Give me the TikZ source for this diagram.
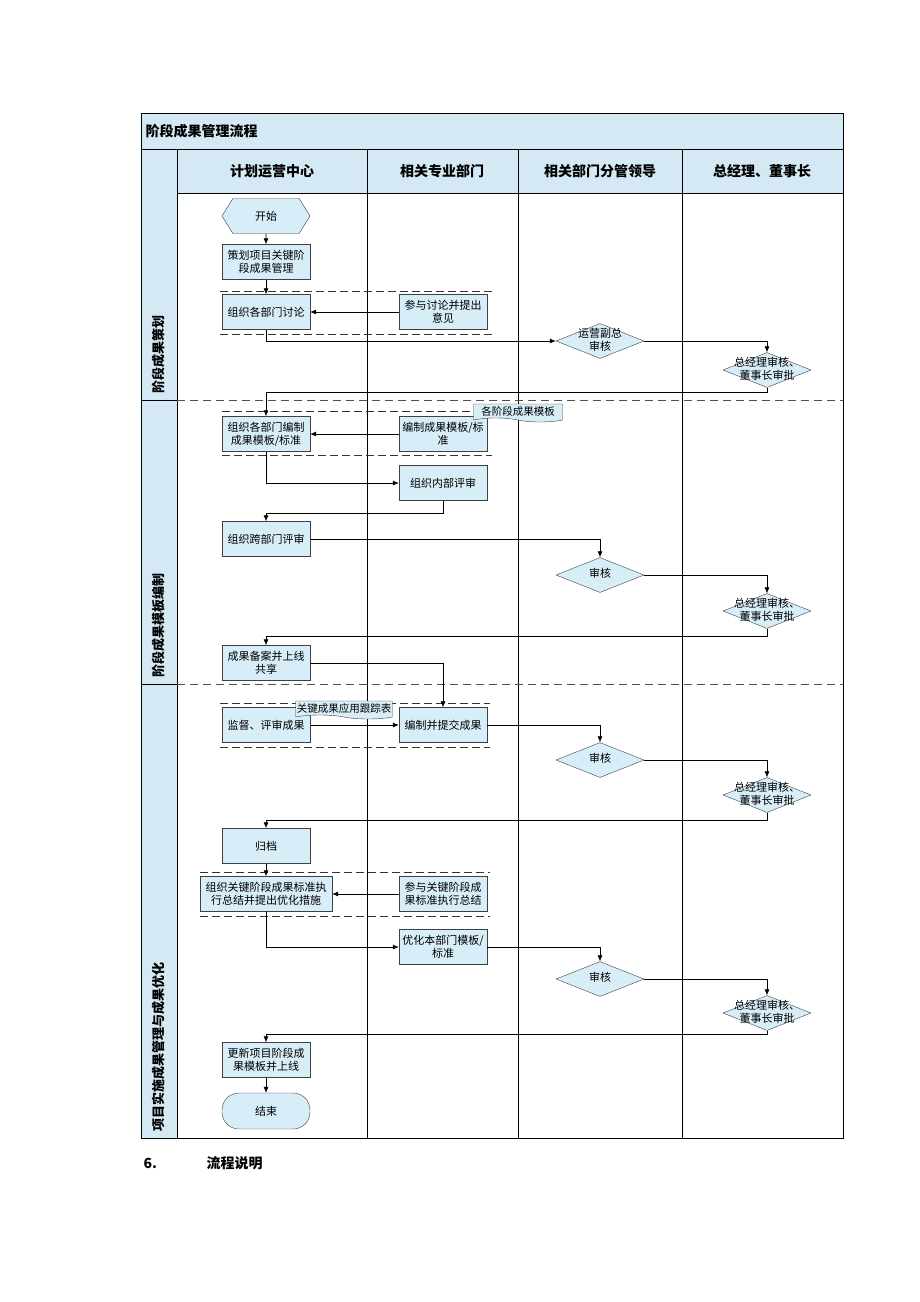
\documentclass[tikz,border=0pt]{standalone}
\usepackage{fontspec}
\setmainfont{Noto Sans CJK SC}
\usetikzlibrary{shapes.geometric,shapes.symbols,arrows.meta,positioning}
\definecolor{boxfill}{HTML}{D7EDF8}
\definecolor{hdrfill}{HTML}{D5E9F4}
\definecolor{grpgray}{HTML}{505050}
\newcommand{\dlabel}[1]{\makebox[0pt]{\begin{tabular}{@{}c@{}}#1\end{tabular}}}

\begin{document}
\begin{tikzpicture}[x=1pt, y=-1pt,
  task/.style={rectangle, draw=black!75, fill=boxfill, minimum width=88pt, minimum height=35pt, inner sep=1pt, align=center, font=\fontsize{11}{13}\selectfont},
  check/.style={diamond, draw=black!75, fill=boxfill, minimum width=88pt, minimum height=35pt, inner sep=0pt, aspect=2.5, font=\fontsize{11}{13}\selectfont},
  hexa/.style={signal, signal to=east and west, signal pointer angle=116, draw=black!75, fill=boxfill, minimum width=88pt, minimum height=35pt, inner sep=1pt, font=\fontsize{11}{13}\selectfont},
  term/.style={rectangle, rounded corners=17pt, draw=black!75, fill=boxfill, minimum width=88pt, minimum height=36pt, font=\fontsize{11}{13}\selectfont},
  docu/.style={tape, tape bend top=none, tape bend bottom=out and in, tape bend height=4pt, draw=black!75, fill=boxfill, minimum height=18pt, inner sep=1pt, font=\fontsize{10.5}{12}\selectfont},
  flow/.style={-{Latex[length=6pt,width=5pt]}, line width=0.6pt},
  frame/.style={line width=0.9pt},
  phase/.style={grpgray, line width=0.8pt, dash pattern=on 8pt off 5pt},
  grp/.style={black!80, line width=0.8pt, dash pattern=on 8pt off 4pt},
  lane/.style={font=\fontsize{14}{16}\selectfont\bfseries}
]
  \useasboundingbox (0,0) rectangle (920,1302);

  % frame and lanes
  \fill[hdrfill] (141,113) rectangle (843,149);
  \fill[hdrfill] (177,149) rectangle (843,193);
  \fill[hdrfill] (141,149) rectangle (177,1138);
  \draw[frame] (141,113) rectangle (843,1138);
  \draw[frame] (141,149) -- (843,149);
  \draw[frame] (177,193) -- (843,193);
  \draw[frame] (177,149) -- (177,1138);
  \foreach \x in {367,518,682} \draw[frame] (\x,149) -- (\x,1138);
  \foreach \y in {400,684} {
    \draw[frame] (141,\y) -- (177,\y);
    \draw[phase] (177,\y) -- (843,\y);
  }

  \node[lane, anchor=west] (title) at (142,131) {阶段成果管理流程};
  \node[lane] (l1) at (272,171) {计划运营中心};
  \node[lane] (l2) at (442,171) {相关专业部门};
  \node[lane] (l3) at (600,171) {相关部门分管领导};
  \node[lane] (l4) at (762,171) {总经理、董事长};

  \node[lane, font=\fontsize{13}{15}\selectfont\bfseries, rotate=90, anchor=west] (p1) at (159,397) {阶段成果策划};
  \node[lane, font=\fontsize{13}{15}\selectfont\bfseries, rotate=90, anchor=west] (p2) at (159,681) {阶段成果模板编制};
  \node[lane, font=\fontsize{13}{15}\selectfont\bfseries, rotate=90, anchor=west] (p3) at (159,1135) {项目实施成果管理与成果优化};

  % group markers
  \draw[grp] (220,291) -- (492,291); \draw[grp] (220,334) -- (492,334);
  \draw[grp] (222,411) -- (492,411); \draw[grp] (222,455) -- (492,455);
  \draw[grp] (220,703) -- (490,703); \draw[grp] (220,747) -- (490,747);
  \draw[grp] (200,872) -- (490,872); \draw[grp] (200,916) -- (490,916);

  % phase 1
  \node[hexa] (start) at (266,216) {开始};
  \node[task] (plan) at (266,262) {策划项目关键阶\\段成果管理};
  \node[task] (discuss) at (266,312) {组织各部门讨论};
  \node[task] (advise) at (443,312) {参与讨论并提出\\意见};
  \node[check] (vpok) at (600,341) {\dlabel{运营副总\\审核}};
  \node[check] (gm1) at (767,370) {\dlabel{总经理审核、\\董事长审批}};

  % phase 2
  \node[task] (compile) at (266,434) {组织各部门编制\\成果模板/标准};
  \node[task] (draft) at (443,434) {编制成果模板/标\\准};
  \node[docu, minimum width=89pt] (tpl) at (518,411) {各阶段成果模板};
  \node[task] (inrev) at (443,483) {组织内部评审};
  \node[task] (xrev) at (266,539) {组织跨部门评审};
  \node[check] (ok2) at (600,575) {\dlabel{审核}};
  \node[check] (gm2) at (767,611) {\dlabel{总经理审核、\\董事长审批}};
  \node[task] (share) at (266,663) {成果备案并上线\\共享};

  % phase 3
  \node[task] (monitor) at (266,725) {监督、评审成果};
  \node[task] (submit) at (443,725) {编制并提交成果};
  \node[docu, minimum width=95pt] (track) at (344,708) {关键成果应用跟踪表};
  \node[check] (ok3) at (600,760) {\dlabel{审核}};
  \node[check] (gm3) at (767,795) {\dlabel{总经理审核、\\董事长审批}};
  \node[task] (archive) at (266,846) {归档};
  \node[task, minimum width=132pt] (summ) at (266,894) {组织关键阶段成果标准执\\行总结并提出优化措施};
  \node[task] (join) at (443,894) {参与关键阶段成\\果标准执行总结};
  \node[task] (optim) at (443,947) {优化本部门模板/\\标准};
  \node[check] (ok4) at (600,979) {\dlabel{审核}};
  \node[check] (gm4) at (767,1013) {\dlabel{总经理审核、\\董事长审批}};
  \node[task] (update) at (266,1060) {更新项目阶段成\\果模板并上线};
  \node[term] (finish) at (266,1111) {结束};

  % connectors
  \draw[flow] (start) -- (plan);
  \draw[flow] (plan) -- (discuss);
  \draw[flow] (advise) -- (discuss);
  \draw[flow] (discuss.south) |- (vpok.west);
  \draw[flow] (vpok.east) -| (gm1.north);
  \draw[flow] (gm1.south) -- ++(0,5) -| (compile.north);
  \draw[flow] (draft) -- (compile);
  \draw[flow] (compile.south) |- (inrev.west);
  \draw[flow] (inrev.south) -- ++(0,13) -| (xrev.north);
  \draw[flow] (xrev.east) -| (ok2.north);
  \draw[flow] (ok2.east) -| (gm2.north);
  \draw[flow] (gm2.south) -- ++(0,8) -| (share.north);
  \draw[flow] (share.east) -| (submit.north);
  \draw[flow] (monitor) -- (submit);
  \draw[flow] (submit.east) -| (ok3.north);
  \draw[flow] (ok3.east) -| (gm3.north);
  \draw[flow] (gm3.south) -- ++(0,8) -| (archive.north);
  \draw[flow] (archive) -- (summ);
  \draw[flow] (join) -- (summ);
  \draw[flow] (summ.south) |- (optim.west);
  \draw[flow] (optim.east) -| (ok4.north);
  \draw[flow] (ok4.east) -| (gm4.north);
  \draw[flow] (gm4.south) -- ++(0,4) -| (update.north);
  \draw[flow] (update) -- (finish);

  % caption below
  \node[lane, anchor=west] (secno) at (140,1163) {6.};
  \node[lane, anchor=west] (sectitle) at (203,1163) {流程说明};
\end{tikzpicture}
\end{document}
